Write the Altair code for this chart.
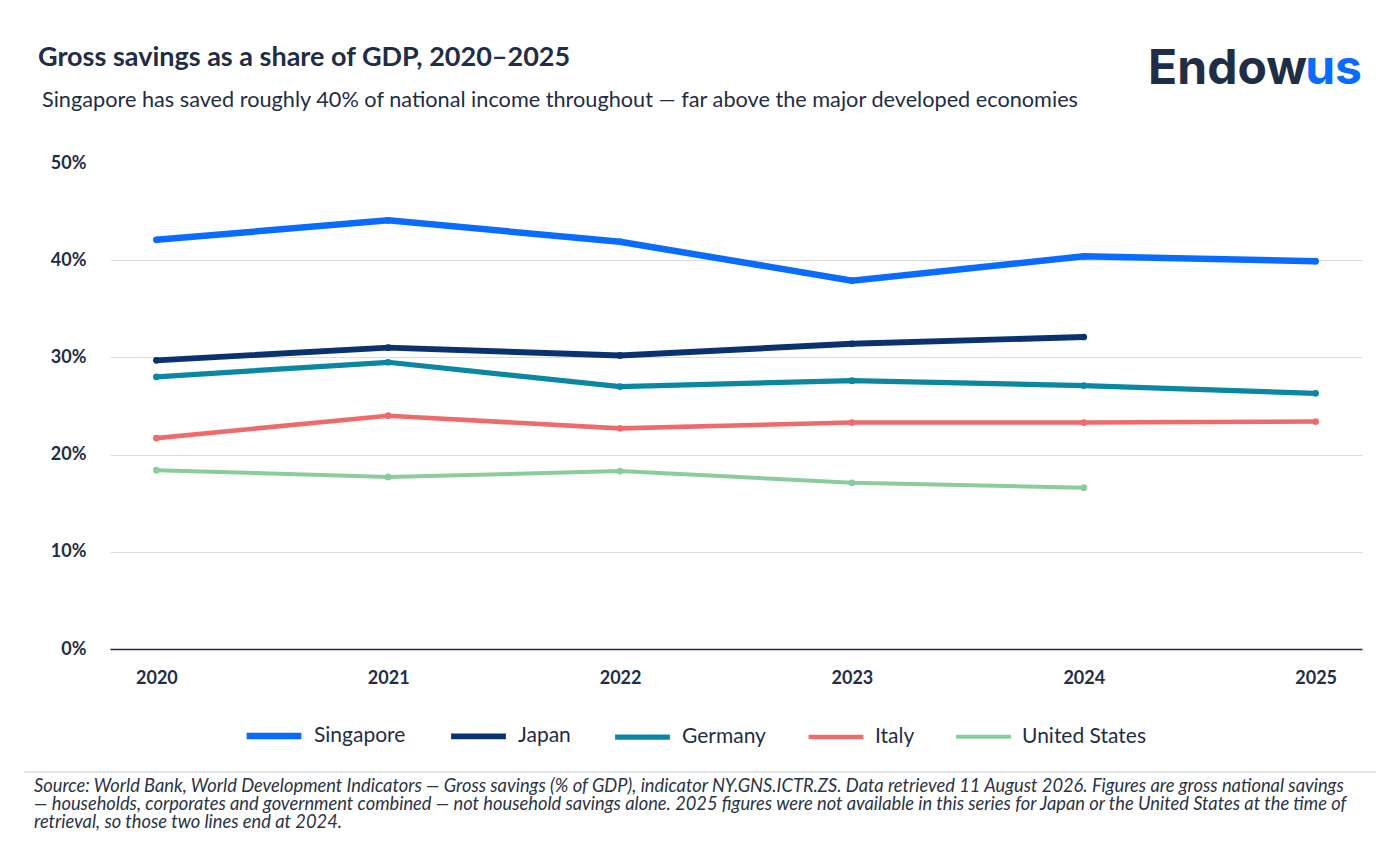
import altair as alt
import pandas as pd

years = ["2020", "2021", "2022", "2023", "2024", "2025"]
countries = ["Singapore", "Japan", "Germany", "Italy", "United States"]
colors = ["#0a6cff", "#0b3270", "#0a87a3", "#ef6b6b", "#8acc9a"]
singapore = [42.1, 44.1, 41.9, 37.9, 40.4, 39.9]
japan = [29.7, 31.0, 30.2, 31.4, 32.1]
germany = [28.0, 29.5, 27.0, 27.6, 27.1, 26.3]
italy = [21.7, 24.0, 22.7, 23.3, 23.3, 23.4]
united_states = [18.4, 17.7, 18.3, 17.1, 16.6]

series = [singapore, japan, germany, italy, united_states]
rows = []
for name, vals in zip(countries, series):
    for yr, v in zip(years, vals):
        rows.append({"year": yr, "country": name, "value": v / 100})
df = pd.DataFrame(rows)

FONT = "Lato"
DARK = "#1f2d45"

base = alt.Chart(df).encode(
    x=alt.X("year:O", title=None, scale=alt.Scale(type="point", padding=0.2),
            axis=alt.Axis(labelAngle=0, ticks=False, labelPadding=20, labelFontSize=18,
                          labelFontWeight="bold", labelColor=DARK, domainColor=DARK,
                          domainWidth=1.5, grid=False)),
    y=alt.Y("value:Q", title=None, scale=alt.Scale(domain=[0, 0.5]),
            axis=alt.Axis(format=".0%", values=[0, 0.1, 0.2, 0.3, 0.4, 0.5], ticks=False,
                          domain=False, labelPadding=24, labelFontSize=18,
                          labelFontWeight="bold", labelColor=DARK, gridColor="#d9dde3",
                          gridOpacity=alt.condition("datum.value >= 0.5", alt.value(0), alt.value(1)))),
    color=alt.Color("country:N", sort=countries,
                    scale=alt.Scale(domain=countries, range=colors),
                    legend=alt.Legend(title=None, orient="none", direction="horizontal",
                                      legendX=133, legendY=542, symbolType="stroke",
                                      symbolStrokeWidth=5, symbolSize=3000, labelFontSize=21,
                                      labelColor=DARK, columnPadding=33, labelOffset=9)),
)

lines = base.mark_line().encode(
    strokeWidth=alt.StrokeWidth("country:N", scale=alt.Scale(domain=countries, range=[6.5, 4, 4, 4, 4.5]),
                                legend=None))
points = base.mark_circle(size=45, opacity=1)

def txt(text, x, y, size, font=FONT, **kw):
    return alt.Chart(pd.DataFrame({"t": [text]})).mark_text(
        font=font, fontSize=size, baseline="middle", **kw
    ).encode(text="t:N", x=alt.value(x), y=alt.value(y))

title = txt("Gross savings as a share of GDP, 2020–2025", -72, -105, 27, align="left",
            fontWeight="bold", color=DARK)
subtitle = txt("Singapore has saved roughly 40% of national income throughout — far above the major developed economies",
               -68, -63, 21.7, align="left", color=DARK)
logo_a = txt("Endow", 1197, -93, 48, font="Inter", align="right", fontWeight="bold", color=DARK)
logo_b = txt("us", 1252, -93, 48, font="Inter", align="right", fontWeight="bold", color="#0a6cff")

sep = alt.Chart(pd.DataFrame({"a": [0]})).mark_rule(color="#d9dde3", strokeWidth=1.5).encode(
    x=alt.value(-86), x2=alt.value(1266), y=alt.value(609))

foot_lines = [
    "Source: World Bank, World Development Indicators — Gross savings (% of GDP), indicator NY.GNS.ICTR.ZS. Data retrieved 11 August 2026. Figures are gross national savings",
    "— households, corporates and government combined — not household savings alone. 2025 figures were not available in this series for Japan or the United States at the time of",
    "retrieval, so those two lines end at 2024.",
]
foot = alt.Chart(pd.DataFrame({"t": [foot_lines]})).mark_text(
    font=FONT, fontSize=18.3, fontStyle="italic", align="left", baseline="top",
    color="#2b3445", lineHeight=18
).encode(text="t", x=alt.value(-76), y=alt.value(615))

chart = alt.layer(lines, points, title, subtitle, logo_a, logo_b, sep, foot).properties(
    width=1252, height=486,
    autosize=alt.AutoSizeParams(type="none"),
    padding={"left": 102, "top": 155, "right": 20, "bottom": 200},
).configure(font=FONT, background="white").configure_view(stroke=None)

chart.save("out.html", embed_options={"renderer": "svg", "actions": False})
